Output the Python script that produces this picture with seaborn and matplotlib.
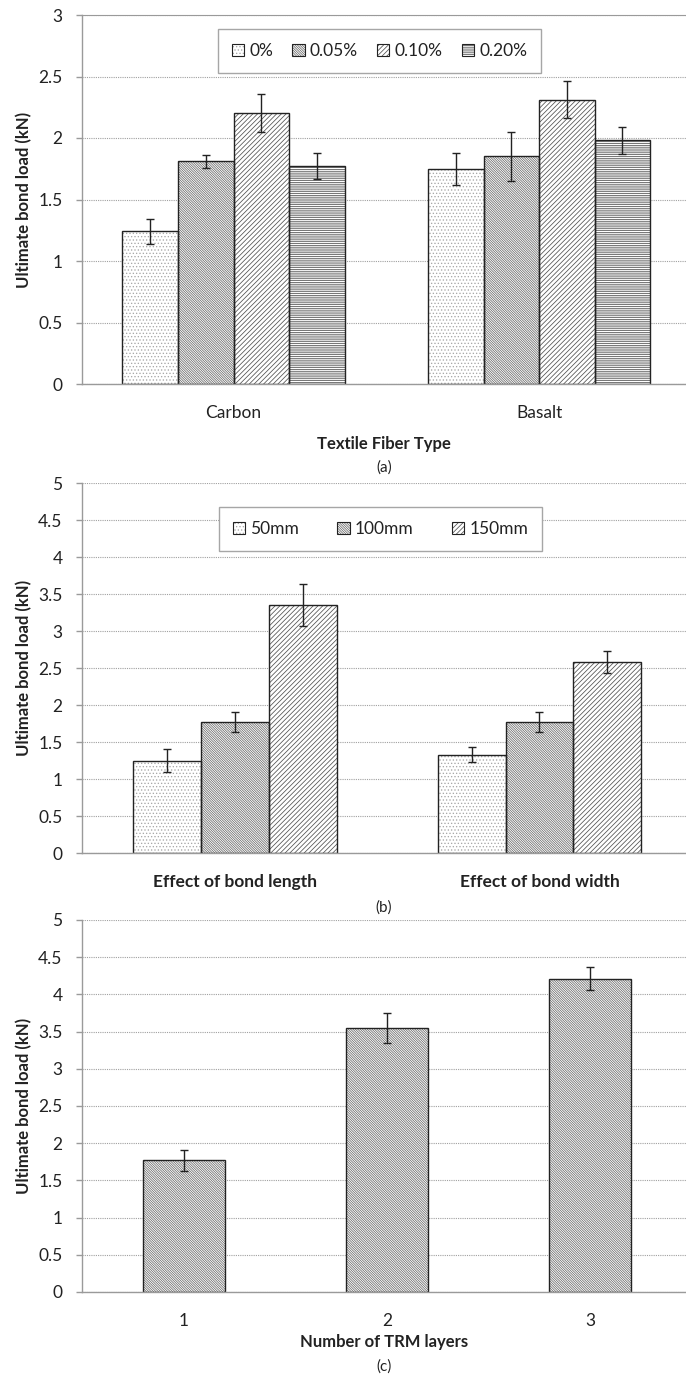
import pandas as pd
import seaborn as sns
import matplotlib.pyplot as plt
from matplotlib.patches import Rectangle
from matplotlib.legend_handler import HandlerTuple
from matplotlib.ticker import MultipleLocator, FormatStrFormatter

# (a) fiber type
fibers = ["Carbon", "Basalt"]
dosages = ["0%", "0.05%", "0.10%", "0.20%"]
load_carbon = [1.24, 1.81, 2.20, 1.77]
load_basalt = [1.75, 1.85, 2.31, 1.98]
err_carbon = [0.10, 0.05, 0.155, 0.105]
err_basalt = [0.13, 0.20, 0.15, 0.11]

# (b) bond length / width
effects = ["Effect of bond length", "Effect of bond width"]
sizes = ["50mm", "100mm", "150mm"]
load_length = [1.25, 1.77, 3.35]
load_width = [1.33, 1.77, 2.58]
err_length = [0.155, 0.13, 0.285]
err_width = [0.10, 0.13, 0.15]

# (c) number of layers
layers = ["1", "2", "3"]
load_layers = [1.77, 3.55, 4.21]
err_layers = [0.14, 0.20, 0.155]

plt.rcParams['font.family'] = ['Lato', 'DejaVu Sans']
plt.rcParams['hatch.linewidth'] = 0.55
plt.rcParams['legend.fancybox'] = False

dark = '#222222'
axis_grey = '#9a9a9a'
patterns = {
    'dots': ('.....', '#a8a8a8'),
    'dense': ('\\' * 14, '#6a6a6a'),
    'slash': ('/' * 7, '#505050'),
    'horiz': ('-' * 9, '#505050'),
}

df_a = pd.DataFrame({
    'fiber': [f for f in fibers for _ in dosages],
    'dosage': dosages * 2,
    'load': load_carbon + load_basalt,
    'err': err_carbon + err_basalt,
})
df_b = pd.DataFrame({
    'effect': [e for e in effects for _ in sizes],
    'size': sizes * 2,
    'load': load_length + load_width,
    'err': err_length + err_width,
})
df_c = pd.DataFrame({'layer': layers, 'load': load_layers, 'err': err_layers})

W, H = 686, 1376
fig = plt.figure(figsize=(W / 100, H / 100), dpi=100)


def make_ax(top, bottom):
    return fig.add_axes([82 / W, 1 - bottom / H, (W - 82) / W, (bottom - top) / H])


def style_bars(ax, conts, styles, errs):
    for cont, st, ee in zip(conts, styles, errs):
        hatch, hc = patterns[st]
        for p, e in zip(cont.patches, ee):
            p.set_facecolor('white')
            p.set_edgecolor(hc)
            p.set_hatch(hatch)
            p.set_linewidth(0)
            ax.add_patch(Rectangle(p.get_xy(), p.get_width(), p.get_height(),
                                   fill=False, ec=dark, lw=1.0, zorder=p.get_zorder() + 0.1))
            ax.errorbar(p.get_x() + p.get_width() / 2, p.get_height(), yerr=e,
                        fmt='none', ecolor=dark, elinewidth=1, capsize=2.9, capthick=1, zorder=5)


def style_axes(ax, ymax, top_spine=False):
    ax.set_ylim(0, ymax)
    ax.yaxis.set_major_locator(MultipleLocator(0.5))
    ax.yaxis.set_major_formatter(FormatStrFormatter('%g'))
    ax.set_axisbelow(True)
    ax.yaxis.grid(True, color='#a0a0a0', linestyle=(0, (1, 1)), linewidth=0.8)
    ax.xaxis.grid(False)
    for s in ['left', 'bottom']:
        ax.spines[s].set_color(axis_grey)
        ax.spines[s].set_linewidth(1)
    ax.spines['right'].set_visible(False)
    ax.spines['top'].set_visible(top_spine)
    ax.spines['top'].set_color(axis_grey)
    ax.tick_params(axis='y', length=4.5, color=axis_grey, width=1, pad=9.5,
                   labelsize=12.5, labelcolor=dark)
    ax.tick_params(axis='x', length=0, pad=15, labelsize=12.5, labelcolor=dark)
    ax.set_ylabel('Ultimate bond load (kN)', fontsize=12, fontweight='bold', color=dark)
    ax.yaxis.set_label_coords((24 - 82) / (W - 82), 0.5)
    ax.yaxis.label.set_va('center')


def add_legend(ax, conts, labels, x0, x1, top, bottom, axtop):
    handles = []
    for cont in conts:
        outline = Rectangle((0, 0), 1, 1, fill=False, ec=dark, lw=0.8)
        handles.append((cont.patches[0], outline))
    axw = W - 82
    axh = bottom - axtop
    yt = (bottom - top) / axh
    leg = ax.legend(handles, labels, handler_map={tuple: HandlerTuple(ndivide=1)},
                    loc='upper left', bbox_to_anchor=((x0 - 82) / axw, yt - 0.2, (x1 - x0) / axw, 0.2),
                    mode='expand', ncol=len(labels), borderaxespad=0, borderpad=0.8,
                    handlelength=0.7, handleheight=0.7, handletextpad=0.3,
                    fontsize=12.5, frameon=True, framealpha=1)
    leg.get_frame().set_edgecolor('#a6a6a6')
    leg.get_frame().set_linewidth(1)
    for t in leg.get_texts():
        t.set_color(dark)


# ---- (a)
ax = make_ax(15, 384)
sns.barplot(data=df_a, x='fiber', y='load', hue='dosage', order=fibers, hue_order=dosages,
            palette=['white'] * 4, width=0.727, errorbar=None, legend=False, ax=ax)
conts = list(ax.containers)
style_bars(ax, conts, ['dots', 'dense', 'slash', 'horiz'],
           [[err_carbon[k], err_basalt[k]] for k in range(4)])
style_axes(ax, 3, top_spine=True)
ax.set_xlim(-0.496, 1.481)
ax.set_xlabel('Textile Fiber Type', fontsize=12, fontweight='bold', color=dark)
ax.xaxis.set_label_coords(0.5, (384 - 444) / 369)
ax.xaxis.label.set_va('center')
add_legend(ax, conts, dosages, 218, 541, 29, 384, 15)
fig.text(384 / W, 1 - 468 / H, '(a)', ha='center', va='center', fontsize=11, color=dark)

# ---- (b)
ax = make_ax(483, 853)
sns.barplot(data=df_b, x='effect', y='load', hue='size', order=effects, hue_order=sizes,
            palette=['white'] * 3, width=0.668, errorbar=None, legend=False, ax=ax)
conts = list(ax.containers)
style_bars(ax, conts, ['dots', 'dense', 'slash'],
           [[err_length[k], err_width[k]] for k in range(3)])
style_axes(ax, 5)
ax.set_xlim(-0.502, 1.481)
ax.set_xlabel('')
for lbl in ax.get_xticklabels():
    lbl.set_fontweight('bold')
add_legend(ax, conts, sizes, 219, 542, 507, 853, 483)
fig.text(384 / W, 1 - 908 / H, '(b)', ha='center', va='center', fontsize=11, color=dark)

# ---- (c)
ax = make_ax(920, 1292)
sns.barplot(data=df_c, x='layer', y='load', order=layers, color='white',
            width=0.404, errorbar=None, ax=ax)
conts = list(ax.containers)
style_bars(ax, conts, ['dense'], [err_layers])
style_axes(ax, 5)
ax.set_xlim(-0.502, 2.473)
ax.set_xlabel('Number of TRM layers', fontsize=12, fontweight='bold', color=dark)
ax.xaxis.set_label_coords(0.5, (1292 - 1342) / 372)
ax.xaxis.label.set_va('center')
fig.text(384 / W, 1 - 1367 / H, '(c)', ha='center', va='center', fontsize=11, color=dark)

fig.savefig('out.png', dpi=100, facecolor='white')
